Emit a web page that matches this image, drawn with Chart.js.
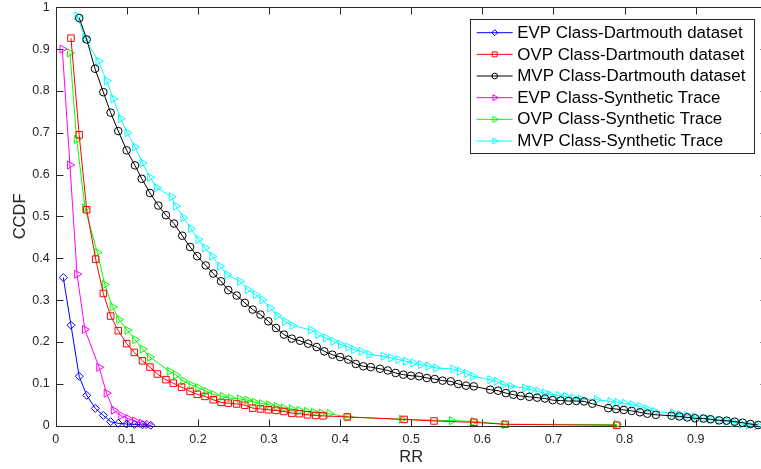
<!DOCTYPE html>
<html><head><meta charset="utf-8">
<script src="https://cdn.jsdelivr.net/npm/chart.js@4.4.0/dist/chart.umd.min.js"></script>
<style>
html,body{margin:0;padding:0;overflow:hidden;background:#fff;width:761px;height:469px}
#wrap{position:absolute;left:0;top:0;width:780px;height:469px}
</style>
</head><body><div id="wrap"><canvas id="c" width="780" height="469"></canvas></div>
<script>
// ---- data ----
const evpDartX = [0.0107,0.0215,0.033,0.0436,0.0557,0.067,0.0773,0.088,0.0998,0.1106,0.122,0.1336];
const evpDartY = [0.354,0.240,0.118,0.0726,0.0414,0.0246,0.0096,0.0057,0.004,0.003,0.002,0.001];

const ovpDartX = [0.0215,0.033,0.0436,0.0562,0.067,0.0773,0.088,0.0998,0.1106,0.122,0.1326,0.143,0.155,0.1654,0.177,0.189,0.199,0.210,0.2216,0.2325,0.2427,0.2545,0.266,0.277,0.288,0.299,0.3098,0.321,0.332,0.3426,0.354,0.3656,0.376,0.410,0.49,0.532,0.588,0.632,0.789];
const ovpDartY = [0.926,0.695,0.516,0.398,0.316,0.262,0.227,0.196,0.175,0.155,0.140,0.1235,0.110,0.1017,0.092,0.082,0.075,0.070,0.062,0.0557,0.054,0.052,0.049,0.042,0.040,0.038,0.0366,0.034,0.030,0.0287,0.026,0.0245,0.0235,0.021,0.015,0.0113,0.0081,0.0033,0.001];

const mvpDartX = [0.0332,0.0436,0.0553,0.067,0.0773,0.088,0.0998,0.1115,0.121,0.1326,0.1443,0.155,0.1664,0.178,0.189,0.199,0.211,0.2216,0.2325,0.2427,0.2545,0.266,0.277,0.288,0.299,0.3098,0.321,0.332,0.3436,0.355,0.367,0.3777,0.389,0.400,0.4115,0.422,0.4326,0.443,0.456,0.467,0.478,0.4889,0.4997,0.511,0.522,0.533,0.544,0.5555,0.566,0.577,0.588,0.611,0.622,0.633,0.6435,0.654,0.666,0.677,0.688,0.699,0.710,0.721,0.732,0.743,0.7546,0.777,0.788,0.799,0.810,0.8217,0.832,0.844,0.866,0.877,0.888,0.899,0.911,0.921,0.933,0.9436,0.955,0.966,0.977,0.988];
const mvpDartY = [0.974,0.923,0.853,0.797,0.748,0.704,0.658,0.622,0.590,0.556,0.526,0.503,0.483,0.454,0.427,0.405,0.383,0.3636,0.345,0.324,0.311,0.2935,0.2775,0.2655,0.2495,0.2335,0.2177,0.208,0.203,0.196,0.188,0.1777,0.1697,0.164,0.158,0.1475,0.142,0.140,0.136,0.132,0.126,0.122,0.1195,0.118,0.114,0.1115,0.1077,0.106,0.0997,0.0957,0.094,0.086,0.0837,0.078,0.074,0.071,0.069,0.067,0.065,0.061,0.060,0.059,0.059,0.058,0.0526,0.042,0.0397,0.0376,0.0354,0.032,0.0287,0.026,0.0239,0.022,0.0199,0.0177,0.017,0.0153,0.0127,0.012,0.0096,0.0072,0.004,0.0017];

const evpSynX = [0.0093,0.020,0.030,0.041,0.061,0.0715,0.0815,0.092,0.102,0.1115,0.121,0.130];
const evpSynY = [0.900,0.623,0.362,0.230,0.1395,0.078,0.037,0.024,0.017,0.011,0.006,0.003];

const ovpSynX = [0.020,0.0295,0.0412,0.0585,0.069,0.080,0.089,0.1007,0.1115,0.122,0.1326,0.160,0.169,0.1795,0.191,0.2005,0.212,0.2226,0.2348,0.246,0.259,0.2695,0.280,0.290,0.300,0.311,0.321,0.332,0.3426,0.353,0.363,0.374,0.385,0.4115,0.4866,0.557,0.588,0.632,0.789];
const ovpSynY = [0.891,0.684,0.520,0.414,0.337,0.284,0.2536,0.228,0.2057,0.183,0.164,0.130,0.121,0.107,0.097,0.091,0.082,0.074,0.070,0.066,0.064,0.061,0.0557,0.0526,0.050,0.046,0.042,0.040,0.0366,0.034,0.032,0.030,0.0287,0.0207,0.0153,0.012,0.010,0.0033,0.003];

const mvpSynX = [0.0304,0.0412,0.060,0.0717,0.081,0.0914,0.1007,0.1115,0.122,0.1326,0.142,0.163,0.169,0.1795,0.190,0.2005,0.210,0.220,0.231,0.241,0.259,0.270,0.281,0.2906,0.3014,0.3117,0.3225,0.333,0.359,0.369,0.380,0.3904,0.401,0.4115,0.4195,0.430,0.441,0.461,0.4715,0.4818,0.4926,0.503,0.5136,0.524,0.535,0.559,0.5686,0.578,0.587,0.611,0.620,0.6295,0.640,0.660,0.669,0.6787,0.688,0.695,0.7068,0.7176,0.728,0.738,0.761,0.780,0.790,0.800,0.811,0.822,0.832,0.843,0.868,0.878,0.888,0.899,0.911,0.921,0.932,0.9436,0.954,0.965,0.975,0.987];
const mvpSynY = [0.979,0.926,0.871,0.824,0.781,0.734,0.700,0.666,0.628,0.593,0.569,0.547,0.525,0.497,0.471,0.445,0.425,0.405,0.381,0.361,0.345,0.325,0.313,0.301,0.281,0.263,0.2495,0.239,0.229,0.2177,0.2097,0.2017,0.194,0.188,0.1816,0.1777,0.170,0.166,0.162,0.158,0.154,0.150,0.146,0.142,0.138,0.1355,0.130,0.1245,0.118,0.110,0.106,0.098,0.094,0.090,0.086,0.082,0.078,0.074,0.0725,0.070,0.066,0.064,0.062,0.058,0.0557,0.0536,0.050,0.046,0.040,0.034,0.030,0.026,0.024,0.021,0.018,0.0153,0.0127,0.0103,0.008,0.004,0.0017,0.0];

const seriesLabels = ['EVP Class-Dartmouth dataset','OVP Class-Dartmouth dataset','MVP Class-Dartmouth dataset','EVP Class-Synthetic Trace','OVP Class-Synthetic Trace','MVP Class-Synthetic Trace'];
const xTitle = 'RR';
const yTitle = 'CCDF';

// ---- build ----
const FONT = "'Liberation Sans', Arial, Helvetica, sans-serif";
const AXIS = '#262626';
function pts(xs, ys){ return xs.map((x,i)=>({x:x, y:ys[i]})); }
function fmt(v){ return String(Math.round(v*10)/10); }
const styles = [
  {c:'#0000ff', ps:'rectRot', r:4,   rot:0},
  {c:'#ff0000', ps:'rect',    r:4.6, rot:0},
  {c:'#000000', ps:'circle',  r:3.8, rot:0},
  {c:'#ff00ff', ps:'triangle',r:4.7, rot:90},
  {c:'#00ff00', ps:'triangle',r:4.7, rot:90},
  {c:'#00ffff', ps:'triangle',r:4.7, rot:90}
];
const allData = [pts(evpDartX,evpDartY),pts(ovpDartX,ovpDartY),pts(mvpDartX,mvpDartY),pts(evpSynX,evpSynY),pts(ovpSynX,ovpSynY),pts(mvpSynX,mvpSynY)];
const datasets = allData.map((d,i)=>({
  label: seriesLabels[i], data: d,
  borderColor: styles[i].c, borderWidth: 1,
  pointStyle: styles[i].ps, pointRadius: styles[i].r, pointRotation: styles[i].rot,
  pointBorderColor: styles[i].c, pointBackgroundColor: 'rgba(0,0,0,0)', pointBorderWidth: 1,
  pointHoverRadius: styles[i].r,
  showLine: true, fill: false, tension: 0, clip: false
}));

function marker(ctx, st, x, y, r){
  ctx.beginPath();
  if (st.ps === 'rectRot'){ ctx.moveTo(x, y-r); ctx.lineTo(x+r, y); ctx.lineTo(x, y+r); ctx.lineTo(x-r, y); ctx.closePath(); }
  else if (st.ps === 'rect'){ const s = r*Math.SQRT1_2; ctx.rect(x-s, y-s, 2*s, 2*s); }
  else if (st.ps === 'circle'){ ctx.arc(x, y, r, 0, Math.PI*2); }
  else { ctx.moveTo(x+r, y); ctx.lineTo(x-r/2, y-r*0.866); ctx.lineTo(x-r/2, y+r*0.866); ctx.closePath(); }
  ctx.stroke();
}

const boxPlugin = {
  id: 'boxTicks',
  beforeDatasetsDraw(chart){
    const {ctx, chartArea:a, scales} = chart;
    ctx.save();
    ctx.strokeStyle = AXIS; ctx.lineWidth = 1;
    const L = Math.round(a.left)+0.5, R = Math.round(a.right)+0.5, T = Math.round(a.top)+0.5, B = Math.round(a.bottom)+0.5;
    ctx.beginPath(); ctx.rect(L, T, R-L, B-T); ctx.stroke();
    const tl = 7;
    ctx.beginPath();
    scales.x.ticks.forEach(t=>{ const px = Math.round(scales.x.getPixelForValue(t.value))+0.5;
      ctx.moveTo(px, B); ctx.lineTo(px, B-tl); ctx.moveTo(px, T); ctx.lineTo(px, T+tl); });
    scales.y.ticks.forEach(t=>{ const py = Math.round(scales.y.getPixelForValue(t.value))+0.5;
      ctx.moveTo(L, py); ctx.lineTo(L+tl, py); ctx.moveTo(R, py); ctx.lineTo(R-tl, py); });
    ctx.stroke();
    ctx.restore();
  }
};

const legendPlugin = {
  id: 'matLegend',
  afterDraw(chart){
    const ctx = chart.ctx;
    const bx = 470.5, by = 19.5, bw = 284, bh = 134;
    ctx.save();
    ctx.fillStyle = '#fff'; ctx.fillRect(bx, by, bw, bh);
    ctx.strokeStyle = AXIS; ctx.lineWidth = 1; ctx.strokeRect(bx, by, bw, bh);
    ctx.font = '16.9px ' + FONT; ctx.textBaseline = 'middle'; ctx.textAlign = 'left';
    chart.data.datasets.forEach((ds,i)=>{
      const y = 32.7 + i*21.66;
      const st = styles[i];
      ctx.strokeStyle = st.c; ctx.lineWidth = 1;
      ctx.beginPath(); ctx.moveTo(476.7, y); ctx.lineTo(512.7, y); ctx.stroke();
      marker(ctx, st, 494.7, y, st.r*0.75);
      ctx.fillStyle = '#000';
      ctx.fillText(ds.label, 517.3, y+0.5);
    });
    ctx.restore();
  }
};

new Chart(document.getElementById('c'), {
  type: 'scatter',
  data: { datasets },
  options: {
    responsive: false, animation: false, devicePixelRatio: 1,
    layout: { padding: { left: 0, top: 7.2, right: 13.2, bottom: 0 } },
    plugins: { legend: { display: false }, tooltip: { enabled: false } },
    scales: {
      x: {
        type: 'linear', min: 0, max: 1,
        grid: { display: false, drawTicks: false }, border: { display: false },
        ticks: { stepSize: 0.1, padding: 6, color: AXIS, font: { family: FONT, size: 12.5 }, maxRotation: 0, autoSkip: false, callback: fmt },
        title: { display: true, text: xTitle, color: AXIS, font: { family: FONT, size: 16.5 }, padding: { top: 0, bottom: 2 } },
        afterFit(s){ s.height = 43.3; s.paddingLeft = 0; s.paddingRight = 0; }
      },
      y: {
        type: 'linear', min: 0, max: 1,
        grid: { display: false, drawTicks: false }, border: { display: false },
        ticks: { stepSize: 0.1, padding: 6, color: AXIS, font: { family: FONT, size: 12.5 }, autoSkip: false, callback: fmt },
        title: { display: true, text: yTitle, color: AXIS, font: { family: FONT, size: 16.5 }, padding: { top: 10.4, bottom: 0 } },
        afterFit(s){ s.width = 55.7; s.paddingTop = 0; s.paddingBottom = 0; }
      }
    }
  },
  plugins: [boxPlugin, legendPlugin]
});
</script></body></html>
